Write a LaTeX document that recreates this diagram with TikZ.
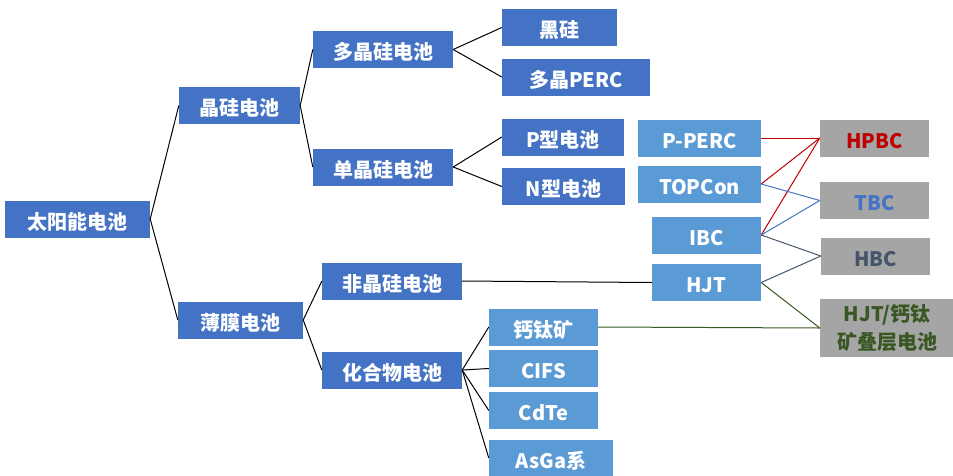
\documentclass[tikz,border=0pt]{standalone}
\usepackage{fontspec}
\setmainfont{Noto Sans CJK SC}
\usepackage{xcolor}

\definecolor{darkblue}{HTML}{4472C4}
\definecolor{lightblue}{HTML}{5B9BD5}
\definecolor{boxgray}{HTML}{A5A5A5}
\definecolor{hpbcred}{HTML}{C00000}
\definecolor{hbcslate}{HTML}{44546A}
\definecolor{stackgreen}{HTML}{385723}

\tikzset{
    box/.style={fill=darkblue, text=white, inner sep=0pt, minimum height=37pt,
        text height=20pt, text depth=0pt,
        font=\bfseries\fontsize{20}{23}\selectfont},
    lbox/.style={box, fill=lightblue},
    gbox/.style={box, fill=boxgray},
    link/.style={line width=1pt, black},
}

\begin{document}
\begin{tikzpicture}[x=1pt, y=-1pt]
    \useasboundingbox (0,0) rectangle (953,475);

    % tree of cell types
    \node[box, minimum width=145pt] (taiyang) at (77.5,219) {太阳能电池};
    \node[box, minimum width=121pt] (jinggui) at (239.5,105.5) {晶硅电池};
    \node[box, minimum width=125pt] (bomo) at (240.5,320) {薄膜电池};
    \node[box, minimum width=140pt] (duojing) at (383,49.5) {多晶硅电池};
    \node[box, minimum width=140pt] (danjing) at (383,167) {单晶硅电池};
    \node[box, minimum width=140pt] (feijing) at (392,281) {非晶硅电池};
    \node[box, minimum width=140pt] (huahe) at (392,370) {化合物电池};
    \node[box, minimum width=115pt] (heigui) at (559.5,27.5) {黑硅};
    \node[box, minimum width=148pt] (duoperc) at (576,77) {多晶PERC};
    \node[box, minimum width=122pt] (pxing) at (563,137) {P型电池};
    \node[box, minimum width=123pt] (nxing) at (563.5,186.5) {N型电池};

    % compound cells
    \node[lbox, minimum width=109pt] (gaitai) at (543.5,327) {钙钛矿};
    \node[lbox, minimum width=109pt] (cifs) at (543.5,368.5) {CIFS};
    \node[lbox, minimum width=109pt] (cdte) at (543.5,410.5) {CdTe};
    \node[lbox, minimum width=124pt] (asga) at (551,458) {AsGa系};

    % cell technologies
    \node[lbox, minimum width=123pt] (pperc) at (699.5,138) {P-PERC};
    \node[lbox, minimum width=123pt] (topcon) at (699.5,184) {TOPCon};
    \node[lbox, minimum width=109pt] (ibc) at (706.5,235) {IBC};
    \node[lbox, minimum width=109pt] (hjt) at (706.5,282.5) {HJT};

    % back contact and stacked cells
    \node[gbox, minimum width=109pt, text=hpbcred] (hpbc) at (874.5,138) {HPBC};
    \node[gbox, minimum width=109pt, text=darkblue] (tbc) at (874.5,200.5) {TBC};
    \node[gbox, minimum width=109pt, text=hbcslate] (hbc) at (875.5,256) {HBC};
    \node[gbox, minimum width=134pt, minimum height=58pt, text=stackgreen, align=center,
        text height={}, text depth={},
        font=\bfseries\fontsize{20}{28}\selectfont] (diecheng) at (887,328) {HJT/钙钛\\矿叠层电池};

    % connectors
    \draw[link] (taiyang.east) -- (jinggui.west);
    \draw[link] (taiyang.east) -- (bomo.west);
    \draw[link] (jinggui.east) -- (duojing.west);
    \draw[link] (jinggui.east) -- (danjing.west);
    \draw[link] (duojing.east) -- (heigui.west);
    \draw[link] (duojing.east) -- (duoperc.west);
    \draw[link] (danjing.east) -- (pxing.west);
    \draw[link] (danjing.east) -- (nxing.west);
    \draw[link] (bomo.east) -- (feijing.west);
    \draw[link] (bomo.east) -- (huahe.west);
    \draw[link] (feijing.east) -- (hjt.west);
    \foreach \child in {gaitai, cifs, cdte, asga}
        \draw[link] (huahe.east) -- (\child.west);

    \draw[link, stackgreen] (gaitai.east) -- (diecheng.west);
    \foreach \src in {pperc, topcon, ibc}
        \draw[link, hpbcred] (\src.east) -- (hpbc.west);
    \foreach \src in {topcon, ibc}
        \draw[link, darkblue] (\src.east) -- (tbc.west);
    \foreach \src in {ibc, hjt}
        \draw[link, hbcslate] (\src.east) -- (hbc.west);
    \draw[link, stackgreen] (hjt.east) -- (diecheng.west);
\end{tikzpicture}
\end{document}
